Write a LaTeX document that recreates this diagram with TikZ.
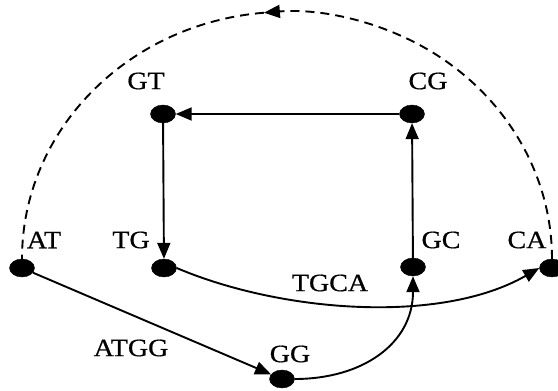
\documentclass[tikz,border=0pt]{standalone}
\usepackage{fontspec}
\setmainfont{Liberation Serif}
\newfontfamily\scanfont{Liberation Serif}[FakeBold=0.6]
\usetikzlibrary{shapes.geometric,arrows.meta}
\newcommand{\biglbl}{\scanfont\fontsize{25pt}{28pt}\selectfont}
\newcommand{\lab}[1]{\scalebox{1.12}[1]{#1}}
\begin{document}
\begin{tikzpicture}[x=1pt,y=-1pt,
  dot/.style={ellipse,fill=black,draw=black,inner sep=0pt,minimum width=25pt,minimum height=18pt},
  lbl/.style={inner sep=0pt,font=\biglbl},
  conn/.style={line width=1.9pt,-{Triangle[length=16pt,width=13pt]}},
  dashedge/.style={line width=1.9pt,dash pattern=on 9pt off 6pt}]
\useasboundingbox (0,0) rectangle (558,391);
\node[dot] (AT) at (22,268) {};
\node[dot] (TG) at (164,268) {};
\node[dot] (GC) at (413,267) {};
\node[dot] (CA) at (552,268) {};
\node[dot] (GT) at (163,114) {};
\node[dot] (CG) at (412,114) {};
\node[dot] (GG) at (282,379) {};
\node[lbl] (tAT) at (44,240) {\lab{AT}};
\node[lbl] (tTG) at (131,240) {\lab{TG}};
\node[lbl] (tGC) at (441,240) {\lab{GC}};
\node[lbl] (tCA) at (527,240) {\lab{CA}};
\node[lbl] (tGT) at (146,81) {\lab{GT}};
\node[lbl] (tCG) at (428,81) {\lab{CG}};
\node[lbl] (tGG) at (290,354) {\lab{GG}};
\node[lbl] (tATGG) at (131,348) {\lab{ATGG}};
\node[lbl] (tTGCA) at (330,283) {\lab{TGCA}};
\draw[conn] (GT) -- (TG);
\draw[conn] (CG) -- (GT);
\draw[conn] (GC) -- (CG);
\draw[conn] (AT) -- (GG);
\draw[conn] (GG.east) to[out=0,in=-90,looseness=1.1] (GC.south);
\draw[conn] (TG.east) .. controls (280,312) and (440,325) .. (CA.west);
\draw[dashedge,-{Triangle[length=16pt,width=13pt]}] (CA.north) arc[start angle=0,end angle=95,x radius=265pt,y radius=247pt] coordinate (top);
\draw[dashedge] (top) arc[start angle=95,end angle=180,x radius=265pt,y radius=247pt];
\end{tikzpicture}
\end{document}
